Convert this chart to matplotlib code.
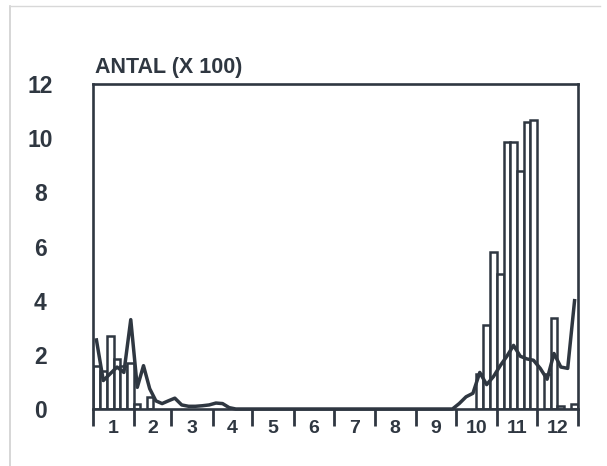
import matplotlib
matplotlib.use("Agg")
import matplotlib.pyplot as plt
import numpy as np

plt.rcParams['font.family'] = ['Liberation Sans', 'DejaVu Sans']

# ---- data ----
month_labels = ["1", "2", "3", "4", "5", "6", "7", "8", "9", "10", "11", "12"]
month_days = [31, 28, 31, 30, 31, 30, 31, 31, 30, 31, 30, 31]
y_ticks = [0, 2, 4, 6, 8, 10, 12]
title_text = "ANTAL (X 100)"

# bars: 6 periods per month (x 100)
bar_jan = [1.6, 1.4, 2.7, 1.85, 1.6, 1.7]
bar_feb = [0.2, 0.0, 0.45, 0.0, 0.0, 0.0]
bar_mar = [0, 0, 0, 0, 0, 0]
bar_apr = [0, 0, 0, 0, 0, 0]
bar_may = [0, 0, 0, 0, 0, 0]
bar_jun = [0, 0, 0, 0, 0, 0]
bar_jul = [0, 0, 0, 0, 0, 0]
bar_aug = [0, 0, 0, 0, 0, 0]
bar_sep = [0, 0, 0, 0, 0, 0]
bar_oct = [0, 0, 0, 1.3, 3.1, 5.8]
bar_nov = [5.0, 9.86, 9.85, 8.8, 10.6, 10.66]
bar_dec = [0, 1.3, 3.35, 0.1, 0, 0.2]

# line: 6 periods per month (x 100)
line_jan = [2.55, 1.05, 1.3, 1.55, 1.35, 3.3]
line_feb = [0.8, 1.6, 0.75, 0.3, 0.2, 0.3]
line_mar = [0.4, 0.15, 0.1, 0.1, 0.12, 0.15]
line_apr = [0.22, 0.2, 0.05, 0, 0, 0]
line_may = [0, 0, 0, 0, 0, 0]
line_jun = [0, 0, 0, 0, 0, 0]
line_jul = [0, 0, 0, 0, 0, 0]
line_aug = [0, 0, 0, 0, 0, 0]
line_sep = [0, 0, 0, 0, 0, 0]
line_oct = [0.2, 0.45, 0.58, 1.35, 0.9, 1.2]
line_nov = [1.6, 1.95, 2.35, 1.95, 1.85, 1.8]
line_dec = [1.5, 1.1, 2.05, 1.55, 1.5, 4.0]

bars = (bar_jan + bar_feb + bar_mar + bar_apr + bar_may + bar_jun +
        bar_jul + bar_aug + bar_sep + bar_oct + bar_nov + bar_dec)
line = (line_jan + line_feb + line_mar + line_apr + line_may + line_jun +
        line_jul + line_aug + line_sep + line_oct + line_nov + line_dec)

# ---- layout ----
bounds = np.concatenate([[0], np.cumsum(month_days)])
lefts, widths = [], []
for i, d in enumerate(month_days):
    w = d / 6.0
    for k in range(6):
        lefts.append(bounds[i] + k * w)
        widths.append(w)
lefts = np.array(lefts)
widths = np.array(widths)
centers = lefts + widths / 2

ink = "#2f3741"

fig = plt.figure(figsize=(6.07, 4.66), dpi=100)
ax = fig.add_axes([93 / 607, 1 - 409 / 466, (578 - 93) / 607, (409 - 84) / 466])

bv = np.array(bars, dtype=float)
mask = bv > 0
ax.bar(lefts[mask], bv[mask], width=widths[mask], align='edge',
       facecolor='white', edgecolor=ink, linewidth=1.8, zorder=2)
ax.plot(centers, line, color=ink, linewidth=2.5, solid_joinstyle='round',
        zorder=3, clip_on=False)

ax.set_xlim(0, bounds[-1])
ax.set_ylim(0, 12)

for s in ax.spines.values():
    s.set_color(ink)
    s.set_linewidth(1.9)

# x: month boundaries as ticks, labels centered in months
ax.set_xticks(bounds)
ax.set_xticklabels([])
ax.tick_params(axis='x', which='major', direction='out', length=12,
               width=2.0, color=ink)
ax.set_xticks((bounds[:-1] + bounds[1:]) / 2, minor=True)
ax.set_xticklabels(month_labels, minor=True, fontsize=14, color=ink,
                   fontweight='bold')
ax.tick_params(axis='x', which='minor', length=0, pad=8)

ax.set_yticks(y_ticks)
ax.set_yticklabels([str(v) for v in y_ticks], fontsize=16.5, color=ink,
                   ha='center', fontweight='bold')
ax.tick_params(axis='y', length=0, pad=38)

fig.text(95 / 607, 1 - 73 / 466, title_text, fontsize=15.5, color=ink,
         ha='left', va='baseline', fontweight='bold')

# faint scan border
fig.add_artist(plt.Line2D([10 / 607, 10 / 607], [0, 1 - 6 / 466],
                          transform=fig.transFigure, color='#d0d0d0', lw=1.2))
fig.add_artist(plt.Line2D([10 / 607, 600 / 607], [1 - 6 / 466, 1 - 6 / 466],
                          transform=fig.transFigure, color='#d8d8d8', lw=1.0))

fig.savefig("out.png", dpi=100)
